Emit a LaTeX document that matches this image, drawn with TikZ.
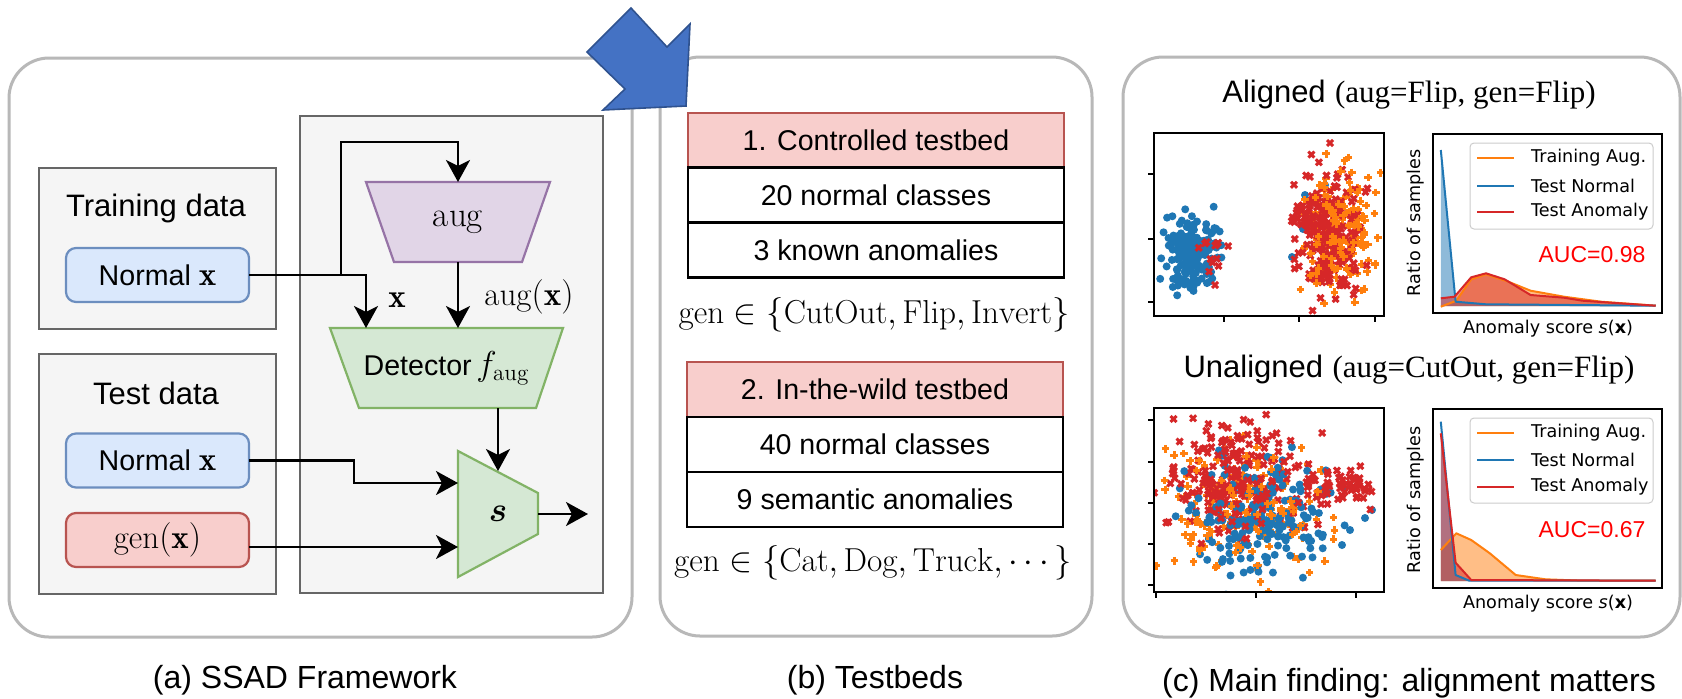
\documentclass[tikz,border=0pt]{standalone}
\usepackage{amsmath,amssymb,bm}
\usepackage{fontspec}
\usetikzlibrary{arrows.meta}
\newfontfamily\hv{Liberation Sans}
\newfontfamily\dv{DejaVu Sans}
\newfontfamily\tm{Liberation Serif}
\newcommand\hvtext{\hv\fontsize{14.3}{17}\selectfont}
\newcommand\grouptext{\hv\fontsize{15.5}{18}\selectfont}
\newcommand\mathtext{\fontsize{16.5}{19}\selectfont}
\newcommand\settext{\fontsize{16.6}{19}\selectfont}
\newcommand\plottext{\dv\fontsize{8.8}{10.5}\selectfont}

\definecolor{panelgray}{HTML}{B8B8B8}
\definecolor{boxgray}{HTML}{666666}
\definecolor{boxfill}{HTML}{F5F5F5}
\definecolor{bluefill}{HTML}{DAE8FC}\definecolor{bluedraw}{HTML}{6C8EBF}
\definecolor{redfill}{HTML}{F8CECC}\definecolor{reddraw}{HTML}{B85450}
\definecolor{greenfill}{HTML}{D5E8D4}\definecolor{greendraw}{HTML}{82B366}
\definecolor{purplefill}{HTML}{E1D5E7}\definecolor{purpledraw}{HTML}{9673A6}
\definecolor{tabblue}{HTML}{1F77B4}
\definecolor{taborange}{HTML}{FF7F0E}
\definecolor{tabred}{HTML}{D62728}
\definecolor{arrowblue}{HTML}{4472C4}
\definecolor{arrowedge}{HTML}{2F528F}
\definecolor{legendgray}{HTML}{CCCCCC}

\pgfdeclarelayer{back}
\pgfdeclarelayer{mid}
\pgfsetlayers{back,mid,main}

% scatter markers
\newcommand\dotmk[2]{\fill[tabblue] (#1,#2) circle[radius=2pt];}
\newcommand\crossmk[2]{\draw[tabred,line width=1.5pt] (#1-3,#2-3) -- (#1+3,#2+3) (#1-3,#2+3) -- (#1+3,#2-3);}
\newcommand\plusmk[2]{\draw[taborange,line width=1.5pt] (#1-3.8,#2) -- (#1+3.8,#2) (#1,#2-3.8) -- (#1,#2+3.8);}
% #1 points around (#2,#4) with spreads #3,#5, drawn with marker #6
\newcommand\scat[6]{\foreach \k in {1,...,#1}{%
  \pgfmathsetmacro\u{#2+#3*(rand+rand+rand)}%
  \pgfmathsetmacro\v{#4+#5*(rand+rand+rand)}%
  #6{\u}{\v}}}

\begin{document}
\begin{tikzpicture}[x=0.5pt,y=-0.5pt,
  panel/.style={draw=panelgray, line width=1.5pt, rounded corners=20pt, fill=white, inner sep=0pt, outer sep=0pt},
  graybox/.style={draw=boxgray, fill=boxfill, line width=1.25pt, inner sep=0pt, outer sep=0pt},
  inbox/.style={rounded corners=5pt, line width=1.1pt, minimum width=91.5pt, minimum height=27pt, inner sep=0pt, outer sep=0pt, font=\hvtext},
  trapbox/.style={inner sep=0pt, outer sep=0pt},
  trapline/.style={line width=1.1pt},
  conn/.style={line width=1.3pt, -{Stealth[length=11pt,width=12pt,inset=3pt]}},
  tcell/.style={draw=black, line width=1.4pt, fill=white, minimum width=188pt, minimum height=27.5pt, inner sep=0pt, outer sep=0pt, font=\hvtext},
  thead/.style={tcell, draw=reddraw, fill=redfill, line width=1pt},
  caption/.style={font=\hv\fontsize{16}{19}\selectfont},
  title/.style={font=\fontsize{15.5}{18}\selectfont},
  axes/.style={line width=0.65pt},
  tick/.style={line width=0.6pt},
  curve/.style={line width=1pt, line join=round},
  lgbox/.style={draw=legendgray, fill=white, fill opacity=0.8, rounded corners=2pt, line width=0.5pt},
]
\useasboundingbox (0,0) rectangle (1682,698);

\begin{pgfonlayer}{back}
  \fill[white] (0,0) rectangle (1682,698);
  % the three panels
  \node[panel, minimum width=311.5pt, minimum height=289.5pt] (pa) at (320.5,347.5) {};
  \node[panel, minimum width=216pt, minimum height=289.5pt] (pb) at (876,346.5) {};
  \node[panel, minimum width=278.5pt, minimum height=290pt] (pc) at (1401.5,347) {};
  % data groups and the model block
  \node[graybox, minimum width=118.5pt, minimum height=80.5pt] (train) at (157.5,248.5) {};
  \node[graybox, minimum width=118.5pt, minimum height=120pt] (test) at (157.5,474) {};
  \node[graybox, minimum width=151.5pt, minimum height=238.5pt] (model) at (451.5,354.5) {};
\end{pgfonlayer}

% ---------- (a) framework ----------
\node[font=\grouptext] (traintitle) at (156,208) {Training data};
\node[font=\grouptext] (testtitle) at (156,393) {Test data};
\node[inbox, draw=bluedraw, fill=bluefill] (trainx) at (157.5,275) {Normal {\mathtext$\mathbf{x}$}};
\node[inbox, draw=bluedraw, fill=bluefill] (testx) at (157.5,460.5) {Normal {\mathtext$\mathbf{x}$}};
\node[inbox, draw=reddraw, fill=redfill, font=\mathtext] (genx) at (157.5,540) {$\mathrm{gen}(\mathbf{x})$};

\node[trapbox, minimum width=92pt, minimum height=40pt, font=\fontsize{17.5}{20}\selectfont] (aug) at (458,222) {$\mathrm{aug}$};
\node[trapbox, minimum width=116.5pt, minimum height=40pt, font=\hvtext] (det) at (446.5,368) {Detector\,{\mathtext$f_{\mathrm{aug}}$}};
\node[trapbox, minimum width=40pt, minimum height=63pt, font=\mathtext] (s) at (498,514) {$\bm{s}$};

\begin{pgfonlayer}{mid}
  \draw[trapline, draw=purpledraw, fill=purplefill]
    (aug.north west) -- (aug.north east) -- ([xshift=-14pt]aug.south east)
    -- ([xshift=14pt]aug.south west) -- cycle;
  \draw[trapline, draw=greendraw, fill=greenfill]
    (det.north west) -- (det.north east) -- ([xshift=-13.5pt]det.south east)
    -- ([xshift=14.5pt]det.south west) -- cycle;
  \draw[trapline, draw=greendraw, fill=greenfill]
    (s.north west) -- ([yshift=-21pt]s.north east) -- ([yshift=21.5pt]s.south east)
    -- (s.south west) -- cycle;
\end{pgfonlayer}

\coordinate (split) at ([xshift=46pt]trainx.east);
\coordinate (out) at (588,514);
\draw[conn] (trainx.east) -| ([xshift=-40.25pt]det.north);
\draw[conn] (split) |- ([yshift=20pt]aug.north) -- (aug.north);
\draw[conn] (aug.south) -- (aug.south |- det.north);
\draw[conn] (det.south -| s.center) -- ([yshift=21.5pt]s.center);
\draw[conn] (testx.east) -- ++(52.5pt,0) |- ([yshift=15.5pt]s.west);
\draw[conn] ([yshift=-3.5pt]genx.east) -- ([yshift=-3.5pt]genx.east -| s.west);
\draw[conn] (s.east) -- (out);

\node[font=\mathtext] (xlab) at (397,300) {$\mathbf{x}$};
\node[font=\mathtext] (auglab) at (529,297) {$\mathrm{aug}(\mathbf{x})$};

% block arrow between panels
\draw[fill=arrowblue, draw=arrowedge, line width=0.8pt, line join=miter]
  (631,8) -- (667,47) -- (690,24) -- (686,106) -- (603,110) -- (625,89) -- (587,52) -- cycle;

% ---------- (b) testbeds ----------
\node[thead] (t1h) at (876,140) {1. Controlled testbed};
\node[tcell] (t1a) at (876,195) {20 normal classes};
\node[tcell] (t1b) at (876,250) {3 known anomalies};
\node[font=\settext] (gen1) at (874,315)
  {$\mathrm{gen}\in\{\mathrm{CutOut},\mathrm{Flip},\mathrm{Invert}\}$};

\node[thead] (t2h) at (875,389.5) {2. In-the-wild testbed};
\node[tcell] (t2a) at (875,444.5) {40 normal classes};
\node[tcell] (t2b) at (875,499.5) {9 semantic anomalies};
\node[font=\settext] (gen2) at (873,563)
  {$\mathrm{gen}\in\{\mathrm{Cat},\mathrm{Dog},\mathrm{Truck},\cdots\}$};

% ---------- (c) findings ----------
\node[title] (ttl1) at (1409,95) {{\hv Aligned} {\tm (aug=Flip, gen=Flip)}};
\node[title] (ttl2) at (1409,370) {{\hv Unaligned} {\tm (aug=CutOut, gen=Flip)}};

% embedding scatter, aligned case
\pgfmathsetseed{4242}
\begin{scope}
  \clip (1154,133) rectangle (1384,316);
  \scat{190}{1192}{13}{252}{18}{\dotmk}
  \scat{12}{1212}{8}{250}{9}{\crossmk}
  \crossmk{1215}{285}
  \scat{110}{1336}{17}{232}{30}{\plusmk}
  \dotmk{1325}{185}\dotmk{1305}{195}\dotmk{1293}{220}\dotmk{1303}{229}\dotmk{1292}{257}
  \scat{230}{1328}{17}{232}{29}{\crossmk}
  \scat{70}{1338}{16}{222}{30}{\plusmk}
  \crossmk{1330}{143}
\end{scope}
\draw[axes] (1154,133) rectangle (1384,316);
\foreach \t in {174,239,302} \draw[tick] (1154,\t) -- (1148,\t);
\foreach \t in {1224,1299,1375} \draw[tick] (\t,316) -- (\t,322);

% embedding scatter, unaligned case
\begin{scope}
  \clip (1154,408) rectangle (1384,592);
  \scat{150}{1242}{38}{505}{34}{\plusmk}
  \scat{120}{1238}{36}{482}{28}{\crossmk}
  \scat{190}{1258}{35}{520}{32}{\dotmk}
  \dotmk{1372}{510}\dotmk{1365}{518}\dotmk{1350}{530}\dotmk{1342}{545}
  \scat{100}{1235}{34}{478}{27}{\crossmk}
  \scat{60}{1340}{16}{488}{9}{\crossmk}
  \scat{50}{1245}{40}{520}{34}{\plusmk}
\end{scope}
\draw[axes] (1154,408) rectangle (1384,592);
\foreach \t in {420,462,503,544,585} \draw[tick] (1154,\t) -- (1148,\t);
\foreach \t in {1156,1256,1356} \draw[tick] (\t,592) -- (\t,598);

% score histograms, aligned case
\fill[taborange, opacity=0.5] (1440.8,306) -- (1440.8,306.7) -- (1456.3,300.7) -- (1471.2,279.3) -- (1486,274.3) -- (1508.3,281.7) -- (1530.6,290.7) -- (1564,296.7) -- (1601.1,301.7) -- (1655.7,305.7) -- (1655.7,306) -- cycle;
\fill[tabblue, opacity=0.5] (1440.8,306) -- (1440.8,150) -- (1455.6,301.7) -- (1486,304.3) -- (1655.7,305.7) -- (1655.7,306) -- cycle;
\fill[tabred, opacity=0.5] (1440.8,306) -- (1440.8,298.3) -- (1454.5,296.7) -- (1471.2,277.3) -- (1486,273.3) -- (1504.6,279.3) -- (1530.6,295) -- (1564,297.7) -- (1582.6,300.7) -- (1619.7,303.3) -- (1655.7,305.7) -- (1655.7,306) -- cycle;
\draw[curve, taborange] (1440.8,306.7) -- (1456.3,300.7) -- (1471.2,279.3) -- (1486,274.3) -- (1508.3,281.7) -- (1530.6,290.7) -- (1564,296.7) -- (1601.1,301.7) -- (1655.7,305.7);
\draw[curve, tabblue] (1440.8,150) -- (1455.6,301.7) -- (1486,304.3) -- (1655.7,305.7);
\draw[curve, tabred] (1440.8,298.3) -- (1454.5,296.7) -- (1471.2,277.3) -- (1486,273.3) -- (1504.6,279.3) -- (1530.6,295) -- (1564,297.7) -- (1582.6,300.7) -- (1619.7,303.3) -- (1655.7,305.7);
\draw[axes] (1433,134) rectangle (1662,313);
\draw[lgbox] (1470,143) rectangle (1653,229);
\draw[curve, taborange, line width=1.3pt] (1477,158) -- (1514,158);
\draw[curve, tabblue, line width=1.3pt] (1477,186) -- (1514,186);
\draw[curve, tabred, line width=1.3pt] (1477,212) -- (1514,212);
\node[font=\plottext, anchor=west] (lg1a) at (1524,158) {Training Aug.};
\node[font=\plottext, anchor=west] (lg1b) at (1524,186) {Test Normal};
\node[font=\plottext, anchor=west] (lg1c) at (1524,212) {Test Anomaly};
\node[font=\hv\fontsize{11.5}{14}\selectfont, text=red] (auc1) at (1592,255) {AUC=0.98};
\node[font=\plottext, rotate=90] (ylab1) at (1416,223) {Ratio of samples};
\node[font=\plottext] (xlab1) at (1548,329) {Anomaly score \textit{s}(\textbf{x})};

% score histograms, unaligned case
\fill[taborange, opacity=0.5] (1440.8,581) -- (1440.8,550) -- (1456.3,533.3) -- (1471.2,540) -- (1489.8,553.3) -- (1515.7,575) -- (1545.4,579.3) -- (1582.6,580.7) -- (1655.7,580.7) -- (1655.7,581) -- cycle;
\fill[tabblue, opacity=0.5] (1440.8,581) -- (1440.8,421.7) -- (1455.6,575) -- (1469.3,580.7) -- (1655.7,580.7) -- (1655.7,581) -- cycle;
\fill[tabred, opacity=0.5] (1440.8,581) -- (1440.8,433.3) -- (1455.6,562.7) -- (1471.2,580) -- (1655.7,580.7) -- (1655.7,581) -- cycle;
\draw[curve, taborange] (1440.8,550) -- (1456.3,533.3) -- (1471.2,540) -- (1489.8,553.3) -- (1515.7,575) -- (1545.4,579.3) -- (1582.6,580.7) -- (1655.7,580.7);
\draw[curve, tabblue] (1440.8,421.7) -- (1455.6,575) -- (1469.3,580.7) -- (1655.7,580.7);
\draw[curve, tabred] (1440.8,433.3) -- (1455.6,562.7) -- (1471.2,580) -- (1655.7,580.7);
\draw[axes] (1433,409) rectangle (1662,588);
\draw[lgbox] (1470,418) rectangle (1653,503);
\draw[curve, taborange, line width=1.3pt] (1477,433) -- (1514,433);
\draw[curve, tabblue, line width=1.3pt] (1477,460) -- (1514,460);
\draw[curve, tabred, line width=1.3pt] (1477,487) -- (1514,487);
\node[font=\plottext, anchor=west] (lg2a) at (1524,433) {Training Aug.};
\node[font=\plottext, anchor=west] (lg2b) at (1524,460) {Test Normal};
\node[font=\plottext, anchor=west] (lg2c) at (1524,487) {Test Anomaly};
\node[font=\hv\fontsize{11.5}{14}\selectfont, text=red] (auc2) at (1592,530) {AUC=0.67};
\node[font=\plottext, rotate=90] (ylab2) at (1416,500) {Ratio of samples};
\node[font=\plottext] (xlab2) at (1548,604) {Anomaly score \textit{s}(\textbf{x})};

% ---------- captions ----------
\node[caption] (capa) at (305,680) {(a) SSAD Framework};
\node[caption] (capb) at (875,680) {(b) Testbeds};
\node[caption] (capc) at (1409,683) {(c) Main finding: alignment matters};
\end{tikzpicture}
\end{document}
